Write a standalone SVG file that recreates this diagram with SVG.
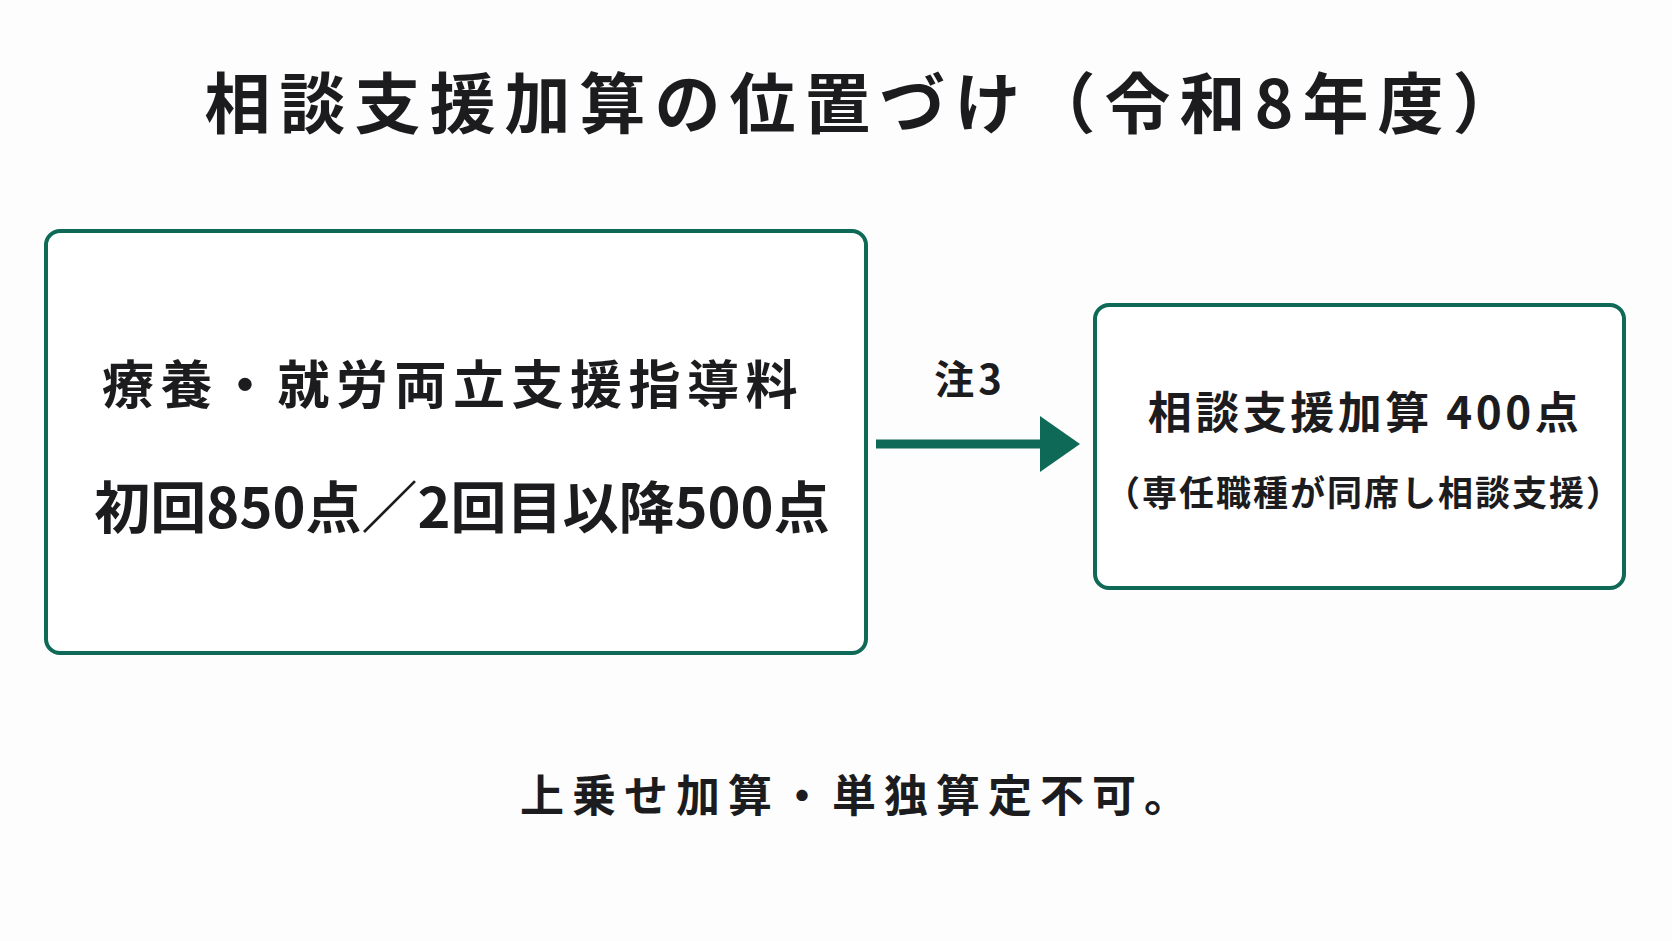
<svg xmlns="http://www.w3.org/2000/svg" width="1672" height="941" viewBox="0 0 1672 941">
<style>
text{font-family:"Noto Sans CJK JP","Noto Sans",sans-serif;font-weight:700;fill:#1c1c1e;text-anchor:middle}
.box{fill:#fff;stroke:#0e6a56;stroke-width:4}
</style>
<rect width="1672" height="941" fill="#fdfdfd"/>
<text x="866" y="128" font-size="66" letter-spacing="9">相談支援加算の位置づけ（令和8年度）</text>
<g id="node-left"><rect class="box" x="46" y="231" width="820" height="422" rx="14"/>
<text x="453" y="404" font-size="52" letter-spacing="6.5">療養・就労両立支援指導料</text>
<text x="462" y="528" font-size="56">初回850点／2回目以降500点</text></g>
<g id="connectors"><line x1="876" y1="444" x2="1040" y2="444" stroke="#0e6a56" stroke-width="9"/>
<path d="M1040,416L1080,444L1040,472z" fill="#0e6a56"/>
<text x="970" y="394" font-size="40" letter-spacing="4">注3</text></g>
<g id="node-right"><rect class="box" x="1095" y="305" width="529" height="283" rx="14"/>
<text x="1365" y="429" font-size="44" letter-spacing="3.5">相談支援加算 400点</text>
<text x="1364" y="506" font-size="35" letter-spacing="2">（専任職種が同席し相談支援）</text></g>
<text x="858" y="812" font-size="44" letter-spacing="8">上乗せ加算・単独算定不可。</text>
</svg>
